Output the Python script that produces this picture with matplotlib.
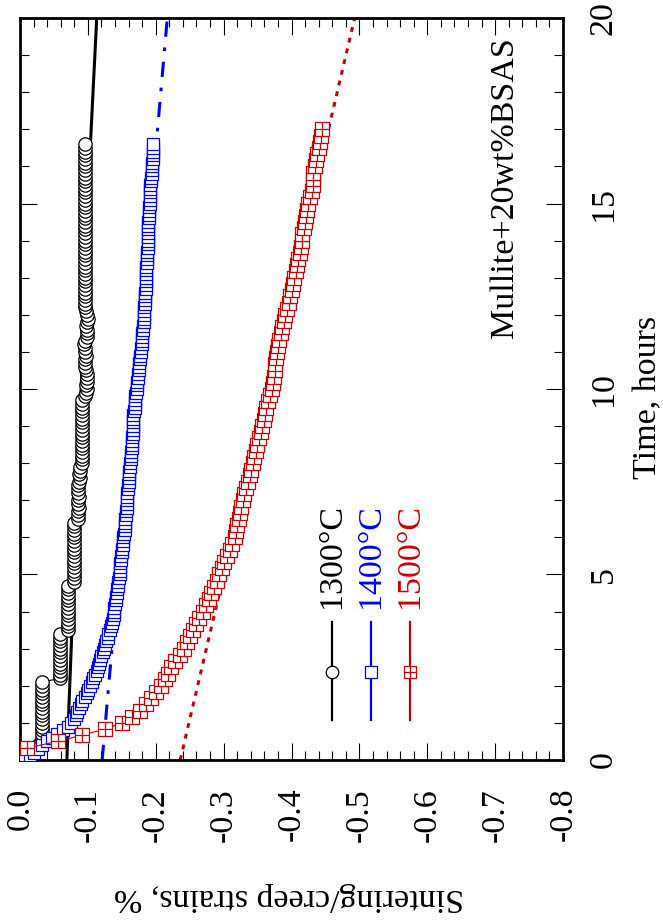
import matplotlib
matplotlib.use("Agg")
import matplotlib.pyplot as plt
from matplotlib.path import Path
from matplotlib.ticker import MultipleLocator, FormatStrFormatter

plt.rcParams["font.family"] = ["Liberation Serif", "DejaVu Serif"]
plt.rcParams["axes.unicode_minus"] = False

# time of the 1300 and 1400 runs, hours (every 0.1 h)
time_h = [
    0.0, 0.1, 0.2, 0.3, 0.4, 0.5, 0.6, 0.7, 0.8, 0.9,
    1.0, 1.1, 1.2, 1.3, 1.4, 1.5, 1.6, 1.7, 1.8, 1.9,
    2.0, 2.1, 2.2, 2.3, 2.4, 2.5, 2.6, 2.7, 2.8, 2.9,
    3.0, 3.1, 3.2, 3.3, 3.4, 3.5, 3.6, 3.7, 3.8, 3.9,
    4.0, 4.1, 4.2, 4.3, 4.4, 4.5, 4.6, 4.7, 4.8, 4.9,
    5.0, 5.1, 5.2, 5.3, 5.4, 5.5, 5.6, 5.7, 5.8, 5.9,
    6.0, 6.1, 6.2, 6.3, 6.4, 6.5, 6.6, 6.7, 6.8, 6.9,
    7.0, 7.1, 7.2, 7.3, 7.4, 7.5, 7.6, 7.7, 7.8, 7.9,
    8.0, 8.1, 8.2, 8.3, 8.4, 8.5, 8.6, 8.7, 8.8, 8.9,
    9.0, 9.1, 9.2, 9.3, 9.4, 9.5, 9.6, 9.7, 9.8, 9.9,
    10.0, 10.1, 10.2, 10.3, 10.4, 10.5, 10.6, 10.7, 10.8, 10.9,
    11.0, 11.1, 11.2, 11.3, 11.4, 11.5, 11.6, 11.7, 11.8, 11.9,
    12.0, 12.1, 12.2, 12.3, 12.4, 12.5, 12.6, 12.7, 12.8, 12.9,
    13.0, 13.1, 13.2, 13.3, 13.4, 13.5, 13.6, 13.7, 13.8, 13.9,
    14.0, 14.1, 14.2, 14.3, 14.4, 14.5, 14.6, 14.7, 14.8, 14.9,
    15.0, 15.1, 15.2, 15.3, 15.4, 15.5, 15.6, 15.7, 15.8, 15.9,
    16.0, 16.1, 16.2, 16.3, 16.4, 16.5, 16.6,
]

strain_1300 = [
    0.000, -0.004, -0.010, -0.018, -0.026, -0.032, -0.032, -0.032, -0.032, -0.032,
    -0.032, -0.032, -0.032, -0.032, -0.032, -0.032, -0.032, -0.032, -0.032, -0.032,
    -0.032, -0.032, -0.059, -0.059, -0.059, -0.059, -0.059, -0.059, -0.059, -0.059,
    -0.059, -0.059, -0.059, -0.059, -0.059, -0.071, -0.071, -0.071, -0.071, -0.071,
    -0.071, -0.071, -0.071, -0.071, -0.071, -0.071, -0.071, -0.071, -0.080, -0.080,
    -0.080, -0.080, -0.080, -0.080, -0.080, -0.080, -0.080, -0.080, -0.080, -0.080,
    -0.080, -0.080, -0.080, -0.080, -0.080, -0.086, -0.085, -0.086, -0.087, -0.086,
    -0.086, -0.087, -0.086, -0.085, -0.086, -0.087, -0.088, -0.087, -0.088, -0.088,
    -0.091, -0.091, -0.091, -0.091, -0.091, -0.091, -0.091, -0.091, -0.091, -0.091,
    -0.091, -0.091, -0.092, -0.091, -0.092, -0.091, -0.091, -0.092, -0.095, -0.097,
    -0.098, -0.097, -0.098, -0.099, -0.098, -0.097, -0.096, -0.095, -0.096, -0.097,
    -0.096, -0.095, -0.094, -0.096, -0.098, -0.099, -0.098, -0.097, -0.099, -0.100,
    -0.099, -0.097, -0.096, -0.096, -0.096, -0.096, -0.096, -0.096, -0.096, -0.096,
    -0.096, -0.096, -0.096, -0.096, -0.096, -0.096, -0.096, -0.096, -0.096, -0.096,
    -0.096, -0.096, -0.096, -0.096, -0.096, -0.096, -0.096, -0.096, -0.096, -0.096,
    -0.096, -0.096, -0.096, -0.096, -0.096, -0.096, -0.096, -0.096, -0.096, -0.096,
    -0.096, -0.096, -0.096, -0.096, -0.096, -0.096, -0.096,
]

strain_1400 = [
    -0.008, -0.014, -0.020, -0.026, -0.032, -0.040, -0.047, -0.054, -0.063, -0.071,
    -0.075, -0.079, -0.082, -0.084, -0.087, -0.090, -0.092, -0.095, -0.098, -0.100,
    -0.103, -0.106, -0.108, -0.111, -0.113, -0.115, -0.116, -0.118, -0.120, -0.122,
    -0.124, -0.125, -0.127, -0.129, -0.130, -0.132, -0.134, -0.136, -0.137, -0.138,
    -0.139, -0.139, -0.140, -0.141, -0.142, -0.143, -0.143, -0.144, -0.145, -0.146,
    -0.147, -0.147, -0.148, -0.148, -0.149, -0.149, -0.150, -0.150, -0.151, -0.151,
    -0.152, -0.153, -0.154, -0.155, -0.155, -0.155, -0.156, -0.156, -0.157, -0.157,
    -0.157, -0.158, -0.158, -0.159, -0.159, -0.160, -0.160, -0.161, -0.161, -0.162,
    -0.162, -0.163, -0.164, -0.164, -0.165, -0.165, -0.165, -0.165, -0.166, -0.166,
    -0.166, -0.167, -0.167, -0.167, -0.168, -0.169, -0.169, -0.170, -0.170, -0.171,
    -0.172, -0.172, -0.173, -0.174, -0.174, -0.175, -0.175, -0.176, -0.177, -0.177,
    -0.178, -0.178, -0.179, -0.179, -0.180, -0.180, -0.181, -0.181, -0.182, -0.182,
    -0.183, -0.183, -0.183, -0.184, -0.184, -0.184, -0.184, -0.185, -0.185, -0.185,
    -0.186, -0.186, -0.186, -0.186, -0.187, -0.187, -0.187, -0.187, -0.188, -0.188,
    -0.188, -0.188, -0.189, -0.189, -0.189, -0.189, -0.190, -0.190, -0.190, -0.190,
    -0.191, -0.191, -0.191, -0.192, -0.192, -0.192, -0.193, -0.193, -0.194, -0.194,
    -0.195, -0.195, -0.196, -0.196, -0.196, -0.196, -0.196,
]

# the 1500 run was logged every 10 min
time_1500 = [
    0.33, 0.50, 0.67, 0.83,
    1.00, 1.17, 1.33, 1.50, 1.67, 1.83,
    2.00, 2.17, 2.33, 2.50, 2.67, 2.83,
    3.00, 3.17, 3.33, 3.50, 3.67, 3.83,
    4.00, 4.17, 4.33, 4.50, 4.67, 4.83,
    5.00, 5.17, 5.33, 5.50, 5.67, 5.83,
    6.00, 6.17, 6.33, 6.50, 6.67, 6.83,
    7.00, 7.17, 7.33, 7.50, 7.67, 7.83,
    8.00, 8.17, 8.33, 8.50, 8.67, 8.83,
    9.00, 9.17, 9.33, 9.50, 9.67, 9.83,
    10.00, 10.17, 10.33, 10.50, 10.67, 10.83,
    11.00, 11.17, 11.33, 11.50, 11.67, 11.83,
    12.00, 12.17, 12.33, 12.50, 12.67, 12.83,
    13.00, 13.17, 13.33, 13.50, 13.67, 13.83,
    14.00, 14.17, 14.33, 14.50, 14.67, 14.83,
    15.00, 15.17, 15.33, 15.50, 15.67, 15.83,
    16.00, 16.17, 16.33, 16.50, 16.67, 16.83,
    17.00,
]

strain_1500 = [
    -0.011, -0.056, -0.091, -0.125,
    -0.150, -0.165, -0.177, -0.186, -0.193, -0.201,
    -0.207, -0.213, -0.218, -0.223, -0.229, -0.236,
    -0.241, -0.246, -0.250, -0.255, -0.260, -0.264,
    -0.269, -0.274, -0.278, -0.282, -0.286, -0.290,
    -0.293, -0.297, -0.301, -0.305, -0.309, -0.313,
    -0.317, -0.318, -0.320, -0.322, -0.324, -0.326,
    -0.328, -0.330, -0.333, -0.336, -0.339, -0.341,
    -0.343, -0.345, -0.347, -0.349, -0.352, -0.355,
    -0.357, -0.359, -0.361, -0.363, -0.365, -0.368,
    -0.371, -0.373, -0.374, -0.375, -0.376, -0.377,
    -0.378, -0.380, -0.382, -0.384, -0.386, -0.389,
    -0.391, -0.393, -0.396, -0.398, -0.400, -0.402,
    -0.404, -0.406, -0.408, -0.410, -0.412, -0.414,
    -0.415, -0.416, -0.418, -0.420, -0.421, -0.423,
    -0.425, -0.427, -0.430, -0.432, -0.432, -0.432,
    -0.434, -0.436, -0.438, -0.441, -0.442, -0.443,
    -0.445,
]

# fitted creep curves
fit_time_1300 = [0.0, 3.3, 16.7, 20.0]
fit_1300 = [-0.069, -0.076, -0.104, -0.113]
fit_time = [0.0, 20.0]
fit_1400 = [-0.121, -0.217]
fit_1500 = [-0.236, -0.493]

labels = ["1300°C", "1400°C", "1500°C"]
BLUE = "#0000ff"
RED = "#cc0000"

# square with a cross inside
boxplus = Path(
    [(-1, -1), (1, -1), (1, 1), (-1, 1), (-1, -1), (0, -1), (0, 1), (-1, 0), (1, 0)],
    [Path.MOVETO, Path.LINETO, Path.LINETO, Path.LINETO, Path.CLOSEPOLY,
     Path.MOVETO, Path.LINETO, Path.MOVETO, Path.LINETO],
)

fig = plt.figure(figsize=(6.63, 9.24), dpi=100)
ax = fig.add_axes([0.0302, 0.1775, 0.819, 0.803])

# fits under the data
ax.plot(fit_1300, fit_time_1300, color="black", lw=2.2, zorder=2)
ax.plot(fit_1400, fit_time, color=BLUE, lw=2.2, dashes=(5, 3.5, 1.2, 3.5), zorder=2)
ax.plot(fit_1500, fit_time, color=RED, lw=2.2, dashes=(1.6, 2.0), zorder=2)

n13 = len(strain_1300)
n14 = len(strain_1400)
ax.plot(strain_1300, time_h[:n13], color="black", lw=0.8, marker="o", ms=9.6,
        mfc="white", mec="black", mew=0.9, zorder=3)
ax.plot(strain_1400, time_h[:n14], color=BLUE, lw=0.8, marker="s", ms=8.8,
        mfc="white", mec=BLUE, mew=0.9, zorder=4)
ax.plot(strain_1500, time_1500, color=RED, lw=0.8, marker=boxplus, ms=9.6,
        mfc="white", mec=RED, mew=0.9, zorder=5)

ax.set_xlim(0.0, -0.8)
ax.set_ylim(0, 20)
ax.xaxis.set_major_locator(MultipleLocator(0.1))
ax.xaxis.set_minor_locator(MultipleLocator(0.02))
ax.xaxis.set_major_formatter(FormatStrFormatter("%.1f"))
ax.yaxis.set_major_locator(MultipleLocator(5))
ax.yaxis.set_minor_locator(MultipleLocator(1))
ax.yaxis.set_major_formatter(FormatStrFormatter("%d"))

for sp in ax.spines.values():
    sp.set_linewidth(2)

ax.tick_params(which="both", direction="in", top=True, right=True,
               labelleft=False, labelright=True, width=0.8)
ax.tick_params(which="major", length=12.5)
ax.tick_params(which="minor", length=6.5)
ax.tick_params(axis="x", labelrotation=90, labelsize=24.5, pad=20)
ax.tick_params(axis="y", labelrotation=90, labelsize=24.5, pad=18)
for lab in ax.get_yticklabels():
    lab.set_va("center")

ax.set_xlabel("Sintering/creep strains, %", fontsize=24.5, rotation=180)
ax.xaxis.set_label_coords(0.4954, -0.1846)
ax.xaxis.label.set_va("center")
ax.yaxis.set_label_position("right")
ax.set_ylabel("Time, hours", fontsize=24.5, rotation=90)
ax.yaxis.set_label_coords(1.1565, 0.488)
ax.yaxis.label.set_va("center")
ax.yaxis.label.set_ha("center")

ax.text(0.893, 0.771, "Mullite+20wt%BSAS", fontsize=24.5, rotation=90,
        ha="center", va="center", transform=ax.transAxes)

# hand-made legend, turned like the rest of the chart
leg_x = [0.5746, 0.6464, 0.7182]
leg_marker = ["o", "s", boxplus]
leg_color = ["black", BLUE, RED]
for lx, mk, col, lab in zip(leg_x, leg_marker, leg_color, labels):
    ax.plot([lx, lx], [0.0539, 0.186], color=col, lw=1.6, transform=ax.transAxes, zorder=6)
    ax.plot([lx], [0.1186], marker=mk, ms=9, mfc="white", mec=col, mew=0.9,
            transform=ax.transAxes, zorder=7)
    ax.text(lx, 0.205, lab, color=col, fontsize=24.5, rotation=90,
            ha="center", va="bottom", transform=ax.transAxes)

fig.savefig("out.png", dpi=100)
